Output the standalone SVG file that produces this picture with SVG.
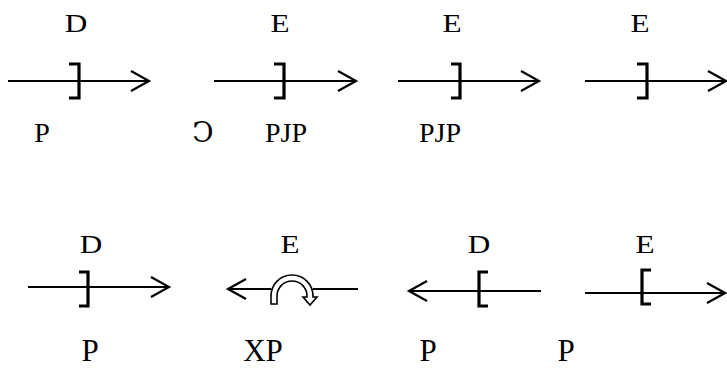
<svg xmlns="http://www.w3.org/2000/svg" width="727" height="369" viewBox="0 0 727 369">
<style>
.ln{fill:none;stroke:#000;stroke-width:2}
.hd{fill:none;stroke:#000;stroke-width:2.2;stroke-linejoin:miter}
.br{fill:none;stroke:#000;stroke-width:3.2;stroke-linejoin:miter}
text{font-family:'Liberation Serif','Times New Roman','DejaVu Serif',serif;fill:#000;text-anchor:middle}
.a{font-size:26px}
.b{font-size:28px}
.c{font-size:31px}
</style>
<rect width="727" height="369" fill="#fff"/>
<g id="connectors">
<path class="ln" d="M8 81H148"/>
<path class="hd" d="M131 71L149 81L131 91"/>
<path class="ln" d="M214 81H355"/>
<path class="hd" d="M338 71L356 81L338 91"/>
<path class="ln" d="M398 81H538"/>
<path class="hd" d="M521 71L539 81L521 91"/>
<path class="ln" d="M585 81H725"/>
<path class="hd" d="M708 71L726 81L708 91"/>
<path class="ln" d="M28 287H168"/>
<path class="hd" d="M151 277L169 287L151 297"/>
<path class="ln" d="M229 289H271M313 289H358"/>
<path class="hd" d="M246 279L228 289L246 299"/>
<path class="ln" d="M410 291H541"/>
<path class="hd" d="M427 281L409 291L427 301"/>
<path class="ln" d="M585 293H724"/>
<path class="hd" d="M707 283L725 293L707 303"/>
</g>
<g id="n1">
<path class="br" d="M69 64H79V98H69"/>
<text class="a" transform="translate(76,32) scale(1.2,1)">D</text>
<text class="b" x="42" y="142">P</text>
</g>
<g id="n2">
<path class="br" d="M274 64H284V98H274"/>
<text class="a" transform="translate(280,32) scale(1.2,1)">E</text>
<text class="b" x="203" y="142">Ↄ</text>
<text class="b" x="286" y="142">PJP</text>
</g>
<g id="n3">
<path class="br" d="M451 64H460V98H451"/>
<text class="a" transform="translate(452,32) scale(1.2,1)">E</text>
<text class="b" x="440" y="142">PJP</text>
</g>
<g id="n4">
<path class="br" d="M637 64H647V98H637"/>
<text class="a" transform="translate(640,32) scale(1.2,1)">E</text>
</g>
<g id="n5">
<path class="br" d="M79 272H88V306H79"/>
<text class="a" transform="translate(91,253) scale(1.2,1)">D</text>
<text class="c" x="90" y="361">P</text>
</g>
<g id="n6">
<path d="M271 304V296A21 21 0 0 1 313 296V297H317L310 305L303 297H307V296A15 15 0 0 0 277 296V304Z" fill="#fff" stroke="#000" stroke-width="1.6" stroke-linejoin="miter"/>
<text class="a" transform="translate(290,253) scale(1.2,1)">E</text>
<text class="c" x="263" y="361">XP</text>
</g>
<g id="n7">
<path class="br" d="M488 272H479V306H488"/>
<text class="a" transform="translate(479,253) scale(1.2,1)">D</text>
<text class="c" x="428" y="361">P</text>
</g>
<g id="n8">
<path class="br" d="M651 270H642V304H651"/>
<text class="a" transform="translate(645,253) scale(1.2,1)">E</text>
<text class="c" x="566" y="361">P</text>
</g>
</svg>
